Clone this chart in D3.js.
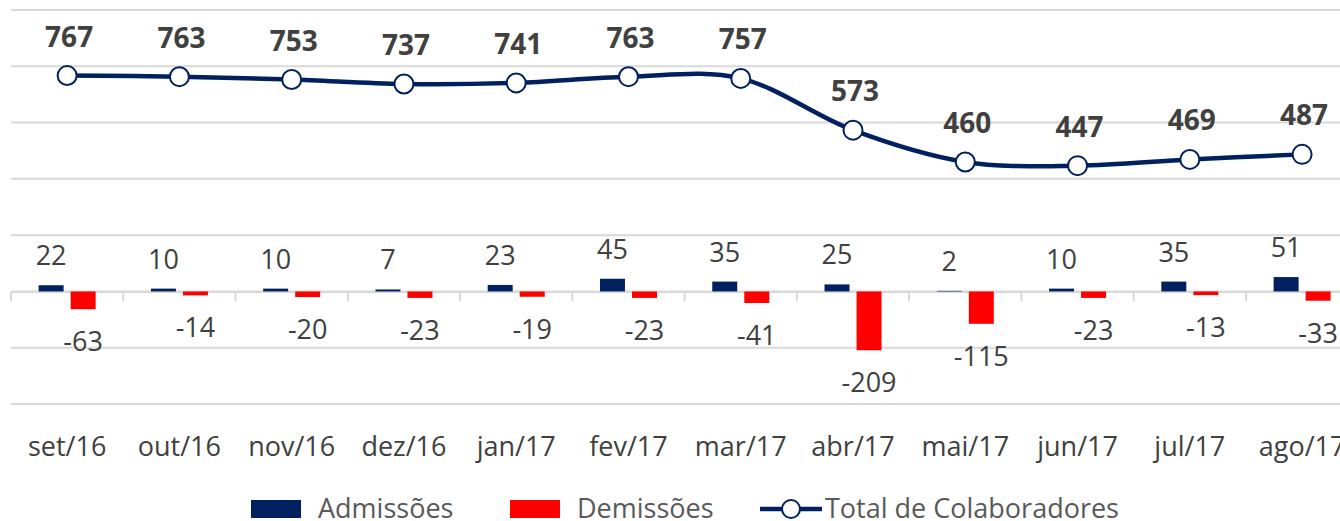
<!DOCTYPE html>
<html><head><meta charset="utf-8">
<script src="https://cdn.jsdelivr.net/npm/d3@7/dist/d3.min.js"></script>
<style>body{margin:0;background:#fff}svg{display:block}</style>
</head><body>
<script>
const categories = ["set/16","out/16","nov/16","dez/16","jan/17","fev/17","mar/17","abr/17","mai/17","jun/17","jul/17","ago/17"];
const admissoes = [22,10,10,7,23,45,35,25,2,10,35,51];
const demissoes = [-63,-14,-20,-23,-19,-23,-41,-209,-115,-23,-13,-33];
const totalColab = [767,763,753,737,741,763,757,573,460,447,469,487];
const gridTicks = [-400,-200,0,200,400,600,800,1000];

const W = 1340, H = 521;
const FONT = "'Open Sans', 'Noto Sans', sans-serif";
const NAVY = "#002060", RED = "#FF0000", TXT = "#404040";

const svg = d3.select("body").append("svg").attr("width", W).attr("height", H)
  .style("font-family", FONT);

const x = d3.scaleBand().domain(categories).range([11, 11 + 12 * 112.27]);
const xin = d3.scaleBand().domain(["adm","dem"]).range([-28.5, 28.5]).paddingInner(0.22);
const y = d3.scaleLinear().domain([-400, 1000]).range([404, 10]);
const cx = c => x(c) + x.bandwidth() / 2;

// gridlines
svg.append("g").selectAll("line").data(gridTicks).join("line")
  .attr("x1", 11).attr("x2", W + 40)
  .attr("y1", d => y(d)).attr("y2", d => y(d))
  .attr("stroke", "#d9d9d9").attr("stroke-width", 2);

// category axis at 0
const xAxis = d3.axisBottom(x).tickSize(0).tickFormat("");
const ax = svg.append("g").attr("transform", `translate(0,${y(0)})`).call(xAxis);
ax.select(".domain").attr("stroke", "#d9d9d9").attr("stroke-width", 2);
// boundary tick marks
const bounds = categories.map(c => x(c)).concat([x(categories[11]) + x.step()]);
svg.append("g").selectAll("line").data(bounds).join("line")
  .attr("x1", d => d).attr("x2", d => d)
  .attr("y1", y(0)).attr("y2", y(0) + 10)
  .attr("stroke", "#d9d9d9").attr("stroke-width", 2);

// x labels
svg.append("g").selectAll("text").data(categories).join("text")
  .attr("x", c => cx(c)).attr("y", 456)
  .attr("text-anchor", "middle").attr("font-size", 27).attr("fill", TXT)
  .text(c => c);

// bars
const rows = categories.map((c, i) => ({c, a: admissoes[i], d: demissoes[i], t: totalColab[i]}));
svg.append("g").selectAll("rect").data(rows).join("rect")
  .attr("x", r => cx(r.c) + xin("adm")).attr("width", xin.bandwidth())
  .attr("y", r => y(Math.max(0, r.a))).attr("height", r => Math.abs(y(r.a) - y(0)))
  .attr("fill", NAVY);
svg.append("g").selectAll("rect").data(rows).join("rect")
  .attr("x", r => cx(r.c) + xin("dem")).attr("width", xin.bandwidth())
  .attr("y", r => y(Math.max(0, r.d))).attr("height", r => Math.abs(y(r.d) - y(0)))
  .attr("fill", RED);

// bar labels
svg.append("g").selectAll("text").data(rows).join("text")
  .attr("x", r => cx(r.c) + xin("adm") + xin.bandwidth() / 2)
  .attr("y", r => y(r.a) - 20)
  .attr("text-anchor", "middle").attr("font-size", 27).attr("fill", TXT)
  .text(r => r.a);
svg.append("g").selectAll("text").data(rows).join("text")
  .attr("x", r => cx(r.c) + xin("dem") + xin.bandwidth() / 2)
  .attr("y", r => y(r.d) + 42)
  .attr("text-anchor", "middle").attr("font-size", 27).attr("fill", TXT)
  .text(r => r.d);

// line
const line = d3.line().x(r => cx(r.c)).y(r => y(r.t)).curve(d3.curveCatmullRom.alpha(0));
svg.append("path").datum(rows).attr("d", line)
  .attr("fill", "none").attr("stroke", NAVY).attr("stroke-width", 4.5);
svg.append("g").selectAll("circle").data(rows).join("circle")
  .attr("cx", r => cx(r.c)).attr("cy", r => y(r.t)).attr("r", 9.5)
  .attr("fill", "#fff").attr("stroke", NAVY).attr("stroke-width", 2);
svg.append("g").selectAll("text").data(rows).join("text")
  .attr("x", r => cx(r.c) + 2).attr("y", r => y(r.t) - 29)
  .attr("text-anchor", "middle").attr("font-size", 28).attr("font-weight", "bold").attr("fill", TXT)
  .text(r => r.t);

// legend
const leg = svg.append("g").attr("font-size", 27).attr("fill", "#595959");
leg.append("rect").attr("x", 251).attr("y", 500).attr("width", 50).attr("height", 18).attr("fill", NAVY);
leg.append("text").attr("x", 318).attr("y", 518).text("Admissões");
leg.append("rect").attr("x", 510).attr("y", 500).attr("width", 50).attr("height", 18).attr("fill", RED);
leg.append("text").attr("x", 577).attr("y", 518).text("Demissões");
leg.append("line").attr("x1", 760).attr("x2", 822).attr("y1", 509).attr("y2", 509)
  .attr("stroke", NAVY).attr("stroke-width", 4.5);
leg.append("circle").attr("cx", 791).attr("cy", 509).attr("r", 9)
  .attr("fill", "#fff").attr("stroke", NAVY).attr("stroke-width", 2);
leg.append("text").attr("x", 825).attr("y", 518).text("Total de Colaboradores");
</script>
</body></html>
